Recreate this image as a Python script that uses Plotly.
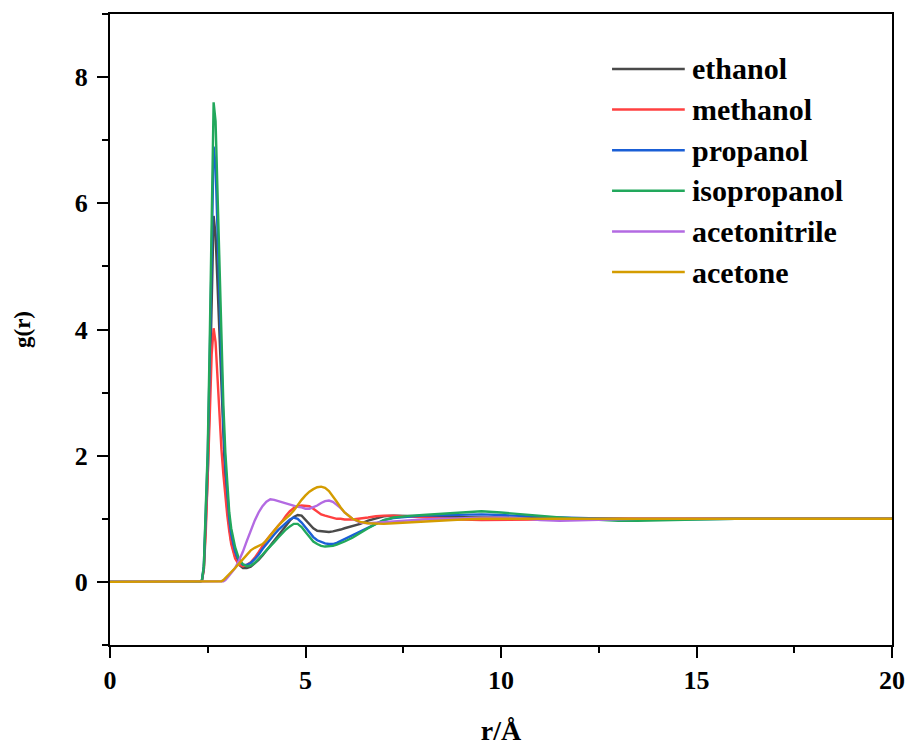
import plotly.graph_objects as go

# ---- data ----
r_grid = ([0.0] +
          [2.30, 2.35, 2.40, 2.45, 2.50, 2.55, 2.60, 2.65, 2.70, 2.75, 2.80, 2.85, 2.90, 2.95, 3.00, 3.05, 3.10] +
          [3.2, 3.3, 3.4, 3.5, 3.6, 3.7, 3.8, 3.9, 4.0, 4.1, 4.2, 4.3, 4.4, 4.5, 4.6, 4.7, 4.8, 4.9,
           5.0, 5.1, 5.2, 5.3, 5.4, 5.5, 5.6, 5.7, 5.8, 5.9, 6.0] +
          [6.2, 6.4, 6.6, 6.8, 7.0] +
          [7.25, 7.5, 7.75, 8.0] +
          [8.5, 9.0, 9.5, 10.0, 10.5, 11.0, 11.5, 12.0, 12.5, 13.0, 13.5, 14.0] +
          [15, 16, 17, 18, 19, 20])

ethanol = ([0] +
           [0, 0.02, 0.2, 0.95, 1.7, 3.0, 4.6, 5.8, 5.5, 4.7, 3.7, 2.9, 2.1, 1.55, 1.15, 0.85, 0.64] +
           [0.4, 0.27, 0.22, 0.22, 0.24, 0.29, 0.35, 0.42, 0.5, 0.58, 0.66, 0.74, 0.82, 0.9, 0.97, 1.03, 1.06, 1.05,
            0.98, 0.91, 0.85, 0.81, 0.8, 0.79, 0.79, 0.8, 0.81, 0.83, 0.85] +
           [0.88, 0.92, 0.97, 1.01, 1.04] +
           [1.05, 1.05, 1.05, 1.04] +
           [1.03, 1.02, 1.02, 1.02, 1.01, 1.01, 1.0, 1.0, 1.0, 1.0, 1.0, 1.0] +
           [1.0, 1.0, 1.0, 1.0, 1.0, 1.0])

methanol = ([0] +
            [0, 0.02, 0.2, 0.8, 1.6, 2.6, 3.6, 4.02, 3.8, 3.2, 2.6, 2.1, 1.7, 1.35, 1.05, 0.8, 0.6] +
            [0.37, 0.27, 0.25, 0.27, 0.31, 0.38, 0.47, 0.57, 0.66, 0.74, 0.81, 0.88, 0.96, 1.05, 1.12, 1.17, 1.2, 1.21,
             1.21, 1.2, 1.16, 1.11, 1.07, 1.05, 1.03, 1.01, 1.0, 1.0, 0.99] +
            [0.99, 1.0, 1.02, 1.04, 1.05] +
            [1.05, 1.04, 1.03, 1.02] +
            [1.0, 0.99, 0.98, 0.98, 0.99, 0.99, 1.0, 1.0, 1.0, 1.0, 1.0, 1.0] +
            [1.0, 1.0, 1.0, 1.0, 1.0, 1.0])

propanol = ([0] +
            [0, 0.02, 0.25, 1.1, 2.0, 3.5, 5.4, 6.9, 6.6, 5.6, 4.4, 3.4, 2.5, 1.85, 1.35, 1.0, 0.76] +
            [0.48, 0.33, 0.27, 0.27, 0.3, 0.36, 0.43, 0.52, 0.6, 0.67, 0.75, 0.82, 0.88, 0.94, 0.99, 1.02, 1.0, 0.94,
             0.86, 0.78, 0.71, 0.66, 0.63, 0.61, 0.6, 0.6, 0.62, 0.65, 0.68] +
            [0.74, 0.81, 0.87, 0.93, 0.98] +
            [1.01, 1.03, 1.04, 1.05] +
            [1.06, 1.07, 1.07, 1.06, 1.04, 1.03, 1.02, 1.01, 1.0, 1.0, 0.99, 0.99] +
            [1.0, 1.0, 1.0, 1.0, 1.0, 1.0])

isopropanol = ([0] +
               [0, 0.02, 0.25, 1.2, 2.1, 3.8, 5.9, 7.6, 7.3, 6.2, 4.9, 3.8, 2.8, 2.05, 1.5, 1.1, 0.85] +
               [0.55, 0.36, 0.28, 0.25, 0.26, 0.3, 0.36, 0.43, 0.5, 0.56, 0.63, 0.7, 0.77, 0.83, 0.88, 0.92, 0.92, 0.87,
                0.79, 0.71, 0.64, 0.6, 0.57, 0.56, 0.56, 0.57, 0.59, 0.61, 0.64] +
               [0.7, 0.78, 0.85, 0.92, 0.98] +
               [1.02, 1.04, 1.05, 1.06] +
               [1.08, 1.1, 1.12, 1.1, 1.07, 1.04, 1.02, 1.0, 0.98, 0.97, 0.97, 0.98] +
               [0.99, 1.0, 1.0, 1.0, 1.0, 1.0])

acetonitrile = ([0] +
                [0, 0, 0, 0, 0, 0, 0, 0, 0, 0, 0, 0, 0.01, 0.03, 0.06, 0.1, 0.14] +
                [0.22, 0.34, 0.48, 0.65, 0.82, 0.97, 1.1, 1.2, 1.27, 1.31, 1.3, 1.28, 1.26, 1.24, 1.22, 1.21, 1.19, 1.18,
                 1.16, 1.16, 1.18, 1.21, 1.25, 1.28, 1.29, 1.27, 1.22, 1.17, 1.1] +
                [1.0, 0.94, 0.93, 0.94, 0.95] +
                [0.96, 0.97, 0.98, 0.99] +
                [1.0, 1.01, 1.02, 1.02, 1.01, 0.98, 0.97, 0.98, 0.99, 1.0, 1.0, 1.0] +
                [1.0, 1.0, 1.0, 1.0, 1.0, 1.0])

acetone = ([0] +
           [0, 0, 0, 0, 0, 0, 0, 0, 0, 0, 0, 0.01, 0.03, 0.06, 0.1, 0.13, 0.16] +
           [0.22, 0.29, 0.36, 0.44, 0.5, 0.54, 0.57, 0.6, 0.66, 0.74, 0.82, 0.89, 0.95, 1.0, 1.06, 1.13, 1.22, 1.3,
            1.37, 1.43, 1.47, 1.5, 1.51, 1.49, 1.44, 1.36, 1.27, 1.18, 1.1] +
           [1.0, 0.95, 0.93, 0.92, 0.92] +
           [0.93, 0.94, 0.95, 0.96] +
           [0.97, 0.99, 1.0, 1.0, 1.0, 1.0, 1.0, 1.0, 1.0, 1.0, 1.0, 1.0] +
           [1.0, 1.0, 1.0, 1.0, 1.0, 1.0])

series_names = ["ethanol", "methanol", "propanol", "isopropanol", "acetonitrile", "acetone"]
series_values = [ethanol, methanol, propanol, isopropanol, acetonitrile, acetone]
series_colors = ["#4a4a4a", "#ff4040", "#1a5fd6", "#22a85c", "#b36ae2", "#d49c00"]

x_ticks = [0, 5, 10, 15, 20]
y_ticks = [0, 2, 4, 6, 8]

for v in series_values:
    assert len(v) == len(r_grid), (len(v), len(r_grid))

FONT = "Liberation Serif"

fig = go.Figure()
for name, vals, col in zip(series_names, series_values, series_colors):
    fig.add_trace(go.Scatter(x=r_grid, y=vals, mode="lines", name=name,
                             line=dict(color=col, width=2.4), showlegend=False))

# manual legend (long line samples like the original)
leg_top = 0.913
leg_step = 0.0644
for i, (name, col) in enumerate(zip(series_names, series_colors)):
    yy = leg_top - i * leg_step
    fig.add_shape(type="line", xref="paper", yref="paper",
                  x0=0.642, x1=0.735, y0=yy, y1=yy,
                  line=dict(color=col, width=2.5))
    fig.add_annotation(xref="paper", yref="paper", x=0.742, y=yy,
                       text="<b>%s</b>" % name, showarrow=False,
                       xanchor="left", yanchor="middle",
                       font=dict(family=FONT, size=30, color="black"))

axis_common = dict(showline=True, linecolor="black", linewidth=2, mirror=True,
                   ticks="outside", ticklen=11, tickwidth=2, tickcolor="black",
                   showgrid=False, zeroline=False, automargin=False,
                   tickfont=dict(family=FONT, size=26, color="black"))

fig.update_xaxes(range=[0, 20], tickvals=x_ticks,
                 ticktext=["<b>%d</b>" % t for t in x_ticks],
                 minor=dict(dtick=2.5, tick0=0, ticks="outside", ticklen=6, tickwidth=2, tickcolor="black"),
                 title=dict(text="<b>r/Å</b>", font=dict(family=FONT, size=28, color="black"), standoff=29),
                 **axis_common)
fig.update_yaxes(range=[-1, 9], tickvals=y_ticks,
                 ticktext=["<b>%d</b>" % t for t in y_ticks],
                 ticklabelstandoff=4,
                 minor=dict(dtick=1, tick0=0, ticks="outside", ticklen=6, tickwidth=2, tickcolor="black"),
                 title=dict(text="<b>g(r)</b>", font=dict(family=FONT, size=23, color="black"), standoff=38),
                 **axis_common)

fig.update_layout(width=909, height=746,
                  margin=dict(l=110, r=17, t=14, b=101),
                  paper_bgcolor="white", plot_bgcolor="white",
                  font=dict(family=FONT, color="black"))

# remove the default page margin so the figure fills the window exactly
fig.write_html("out.html",
               config={"displayModeBar": False},
               post_script="document.body.style.margin='0';document.body.style.overflow='hidden';")
